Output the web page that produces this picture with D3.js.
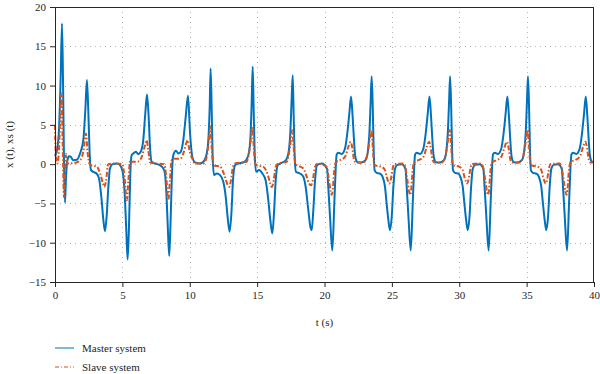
<!DOCTYPE html>
<html lang="en">
<head>
<meta charset="UTF-8">
<script src="https://cdn.jsdelivr.net/npm/d3@7/dist/d3.min.js"></script>
<title>Master / slave</title>
<style>
    body, html {
        margin: 0;
        padding: 0;
        background: #fff;
    }
    #chart {
        width: 600px;
        height: 374px;
    }
    text {
        font-family: "Liberation Serif", "DejaVu Serif", serif;
        fill: #262626;
    }
</style>
</head>
<body>
<div id="chart"></div>
<script>

// axis ticks
const xTicks = [0, 5, 10, 15, 20, 25, 30, 35, 40]
const yTicks = [-15, -10, -5, 0, 5, 10, 15, 20]

const seriesNames = ["Master system", "Slave system"]

// master system x(t), [t, value]
const masterData = [
    [0, 1.0], [0.15, 1.8], [0.3, 4.5], [0.42, 11], [0.52, 17.9], [0.6, 10], [0.67, 0], [0.74, -4.9], [0.82, -1.6], [0.92, 0.5],
    [1.04, 1.0], [1.16, 0.95], [1.36, 0.5], [1.61, 0.55], [1.86, 1.36], [2.10, 3.06], [2.25, 6.87], [2.37, 10.7], [2.47, 6.87], [2.57, 1.4],
    [2.67, -0.76], [2.84, -0.98], [3.09, -1.19], [3.29, -2.04], [3.46, -4.58], [3.59, -7.13], [3.71, -8.53], [3.83, -6.7], [3.96, -2.88], [4.08, -0.55],
    [4.28, 0.0], [4.58, 0.08], [4.82, -0.13], [5.02, -0.98], [5.17, -3.73], [5.29, -8.4], [5.39, -12.14], [5.49, -7.98], [5.59, -1.19], [5.69, 1.15],
    [5.81, 1.36], [6.01, 1.57], [6.18, 1.27], [6.36, 1.57], [6.55, 3.06], [6.70, 6.45], [6.83, 8.87], [6.95, 6.02], [7.05, 2.2], [7.17, 0.3],
    [7.42, 0.08], [7.79, -0.13], [8.04, -0.55], [8.16, -1.19], [8.29, -4.58], [8.39, -8.83], [8.48, -11.7], [8.58, -7.13], [8.68, -1.19], [8.78, 1.15],
    [8.98, 1.7], [9.15, 1.36], [9.33, 1.57], [9.52, 3.06], [9.70, 6.02], [9.87, 8.7], [10.02, 4.0], [10.19, 0.93], [10.39, 0.22], [10.76, 0.08],
    [11.01, 0.3], [11.26, 1.36], [11.38, 3.06], [11.48, 7.3], [11.55, 12.17], [11.63, 6.87], [11.70, 0.93], [11.80, -1.4], [12.00, -1.19], [12.25, -1.4],
    [12.49, -2.25], [12.67, -4.16], [12.81, -6.7], [12.96, -8.6], [13.09, -6.28], [13.21, -2.04], [13.36, -0.13], [13.61, 0.08], [13.98, 0.22], [14.22, 0.6],
    [14.40, 1.57], [14.52, 3.9], [14.60, 8.15], [14.67, 12.4], [14.74, 7.3], [14.82, 1.36], [14.92, -0.98], [15.14, -0.76], [15.39, -1.19], [15.63, -2.04],
    [15.83, -4.58], [15.98, -7.13], [16.13, -8.83], [16.25, -6.28], [16.38, -2.04], [16.53, -0.13], [16.82, 0.17], [17.14, 0.51], [17.32, 1.36], [17.46, 3.9],
    [17.56, 8.15], [17.64, 11.3], [17.71, 6.45], [17.79, 0.93], [17.88, -0.98], [18.18, -1.19], [18.43, -1.61], [18.60, -2.88], [18.80, -5.85], [18.95, -7.98],
    [19.05, -8.4], [19.17, -5.85], [19.30, -2.04], [19.45, -0.13], [19.79, 0.08],
    [20.19, -0.6], [20.28, -2.9], [20.41, -6.7], [20.58, -11.0], [20.73, -4.9], [20.83, -0.6], [20.90, 1.2], [21.03, 1.44], [21.27, 1.3], [21.52, 2.0],
    [21.69, 3.9], [21.84, 6.4], [21.97, 8.6], [22.09, 6.0], [22.19, 3.0], [22.29, 0.9], [22.44, 0.26], [22.63, 0.2], [22.88, 0.3], [23.08, 0.6],
    [23.23, 1.8], [23.33, 3.9], [23.43, 8.2], [23.50, 11.2], [23.58, 7.3], [23.65, 1.8], [23.72, -0.8], [23.87, -1.1], [24.12, -1.2], [24.31, -1.6],
    [24.49, -2.9], [24.61, -5.0], [24.74, -7.1], [24.86, -8.4], [24.99, -6.7], [25.11, -2.9], [25.23, -0.6], [25.40, -0.1], [25.73, 0.0],
    [26.01, -0.6], [26.10, -2.9], [26.23, -6.7], [26.40, -11.0], [26.55, -4.9], [26.65, -0.6], [26.72, 1.2], [26.85, 1.44], [27.09, 1.3], [27.34, 2.0],
    [27.51, 3.9], [27.66, 6.4], [27.79, 8.6], [27.91, 6.0], [28.01, 3.0], [28.11, 0.9], [28.26, 0.26], [28.45, 0.2], [28.70, 0.3], [28.90, 0.6],
    [29.05, 1.8], [29.15, 3.9], [29.25, 8.2], [29.32, 11.2], [29.40, 7.3], [29.47, 1.8], [29.54, -0.8], [29.69, -1.1], [29.94, -1.2], [30.08, -1.6],
    [30.26, -2.9], [30.38, -5.0], [30.51, -7.1], [30.63, -8.4], [30.76, -6.7], [30.88, -2.9], [31.00, -0.6], [31.17, -0.1], [31.50, 0.0],
    [31.79, -0.6], [31.88, -2.9], [32.01, -6.7], [32.18, -11.0], [32.33, -4.9], [32.43, -0.6], [32.50, 1.2], [32.63, 1.44], [32.87, 1.3], [33.12, 2.0],
    [33.29, 3.9], [33.44, 6.4], [33.57, 8.6], [33.69, 6.0], [33.79, 3.0], [33.89, 0.9], [34.04, 0.26], [34.23, 0.2], [34.48, 0.3], [34.68, 0.6],
    [34.83, 1.8], [34.93, 3.9], [35.03, 8.2], [35.10, 11.2], [35.18, 7.3], [35.25, 1.8], [35.32, -0.8], [35.47, -1.1], [35.72, -1.2], [35.91, -1.6],
    [36.09, -2.9], [36.21, -5.0], [36.34, -7.1], [36.46, -8.4], [36.59, -6.7], [36.71, -2.9], [36.83, -0.6], [37.00, -0.1], [37.33, 0.0],
    [37.61, -0.6], [37.70, -2.9], [37.83, -6.7], [38.00, -11.0], [38.15, -4.9], [38.25, -0.6], [38.32, 1.2], [38.45, 1.44], [38.69, 1.3], [38.94, 2.0],
    [39.11, 3.9], [39.26, 6.4], [39.39, 8.6], [39.51, 6.0], [39.61, 3.0], [39.71, 0.9], [39.86, 0.3], [40.0, 0.25]
]

// slave system xs(t)
const slaveData = [
    [0, 5.0], [0.07, 0.9], [0.17, 0.08], [0.3, 2.0], [0.4, 6.5], [0.47, 9.0], [0.57, 2.6], [0.67, -4.2], [0.75, -1.0], [0.82, 1.3],
    [0.92, 0.08], [1.2, 0.1], [1.6, 0.2], [1.9, 0.6], [2.1, 1.6], [2.30, 3.9], [2.42, 1.5], [2.55, 0.08], [2.7, -0.15], [3.1, -0.3],
    [3.35, -1.2], [3.55, -2.4], [3.66, -2.9], [3.78, -2.2], [3.95, 0.0], [4.5, 0.08], [5.0, 0.0], [5.15, -1.5], [5.33, -4.6], [5.45, -2.0],
    [5.58, 0.5], [5.7, 0.3], [6.2, 0.35], [6.45, 1.0], [6.65, 2.2], [6.80, 3.05], [6.92, 1.8], [7.07, 0.2], [7.5, 0.08], [8.1, 0.0],
    [8.25, -1.5], [8.41, -4.6], [8.53, -2.0], [8.66, 0.5], [8.9, 0.7], [9.3, 0.7], [9.55, 1.5], [9.73, 2.6], [9.85, 3.05], [9.97, 1.8],
    [10.15, 0.9], [10.39, 0.08], [11.0, 0.08], [11.26, 0.9], [11.41, 3.05], [11.53, 4.75], [11.63, 2.2], [11.73, 0.08], [11.87, -0.2], [12.25, -0.3],
    [12.57, -1.4], [12.77, -2.46], [12.94, -2.88], [13.06, -2.04], [13.21, -0.3], [13.36, 0.08], [14.22, 0.3], [14.47, 2.2], [14.65, 4.8], [14.75, 2.2],
    [14.85, 0.08], [14.97, -0.13], [15.47, -0.34], [15.8, -1.4], [15.97, -2.46], [16.09, -2.9], [16.23, -2.04], [16.38, -0.34], [16.58, 0.08], [17.2, 0.3],
    [17.44, 2.2], [17.61, 4.3], [17.71, 2.2], [17.83, 0.08], [18.05, -0.2], [18.43, -0.55], [18.68, -1.6], [18.85, -2.46], [19.0, -2.7], [19.13, -2.04],
    [19.3, -0.34], [19.5, 0.08],
    [20.16, -0.34], [20.33, -2.04], [20.46, -3.5], [20.53, -3.9], [20.61, -3.3], [20.70, -1.2], [20.80, 0.08], [20.90, 0.3], [21.15, 0.5], [21.52, 0.93],
    [21.77, 2.2], [21.94, 2.84], [22.07, 1.99], [22.19, 0.59], [22.34, 0.21], [22.88, 0.21], [23.13, 0.93], [23.28, 2.2], [23.38, 3.5], [23.48, 4.33],
    [23.55, 3.06], [23.63, 0.93], [23.70, -0.13], [24.24, -0.34], [24.49, -0.76], [24.61, -1.6], [24.74, -2.25], [24.81, -2.46], [24.91, -2.04], [25.06, -0.55],
    [25.16, 0.0], [25.85, 0.08],
    [25.98, -0.34], [26.15, -2.04], [26.28, -3.5], [26.35, -3.9], [26.43, -3.3], [26.52, -1.2], [26.62, 0.08], [26.72, 0.3], [26.97, 0.5], [27.34, 0.93],
    [27.59, 2.2], [27.76, 2.84], [27.89, 1.99], [28.01, 0.59], [28.16, 0.21], [28.70, 0.21], [28.95, 0.93], [29.10, 2.2], [29.20, 3.5], [29.30, 4.33],
    [29.37, 3.06], [29.45, 0.93], [29.52, -0.13], [30.01, -0.34], [30.26, -0.76], [30.38, -1.6], [30.51, -2.25], [30.58, -2.46], [30.68, -2.04], [30.83, -0.55],
    [30.93, 0.0], [31.62, 0.08],
    [31.76, -0.34], [31.93, -2.04], [32.06, -3.5], [32.13, -3.9], [32.21, -3.3], [32.30, -1.2], [32.40, 0.08], [32.50, 0.3], [32.75, 0.5], [33.12, 0.93],
    [33.37, 2.2], [33.54, 2.84], [33.67, 1.99], [33.79, 0.59], [33.94, 0.21], [34.48, 0.21], [34.73, 0.93], [34.88, 2.2], [34.98, 3.5], [35.08, 4.33],
    [35.15, 3.06], [35.23, 0.93], [35.30, -0.13], [35.84, -0.34], [36.09, -0.76], [36.21, -1.6], [36.34, -2.25], [36.41, -2.46], [36.51, -2.04], [36.66, -0.55],
    [36.76, 0.0], [37.45, 0.08],
    [37.58, -0.34], [37.75, -2.04], [37.88, -3.5], [37.95, -3.9], [38.03, -3.3], [38.12, -1.2], [38.22, 0.08], [38.32, 0.3], [38.57, 0.5], [38.94, 0.93],
    [39.19, 2.2], [39.36, 2.84], [39.49, 1.99], [39.61, 0.59], [39.76, 0.21], [40.0, 0.21]
]

const width = 600
const height = 374
const margin = { left: 55, right: 6, top: 7, bottom: 92 }
const innerW = width - margin.left - margin.right
const innerH = height - margin.top - margin.bottom

const blue = "#0072bd"
const orange = "#d95319"

const svg = d3.select("#chart").append("svg")
    .attr("width", width).attr("height", height)

const x = d3.scaleLinear().domain([0, 40]).range([margin.left, margin.left + innerW])
const y = d3.scaleLinear().domain([-15, 20]).range([margin.top + innerH, margin.top])

// grid
const grid = svg.append("g").attr("stroke", "#b4b4b4").attr("stroke-width", 1).attr("stroke-dasharray", "1,4")
grid.selectAll(".gx").data(xTicks.slice(1, -1)).enter().append("line")
    .attr("x1", d => Math.round(x(d)) + 0.5).attr("x2", d => Math.round(x(d)) + 0.5)
    .attr("y1", margin.top).attr("y2", margin.top + innerH)
grid.selectAll(".gy").data(yTicks.slice(1, -1)).enter().append("line")
    .attr("y1", d => Math.round(y(d)) + 0.5).attr("y2", d => Math.round(y(d)) + 0.5)
    .attr("x1", margin.left).attr("x2", margin.left + innerW)

// series
const line = d3.line().x(d => x(d[0])).y(d => y(d[1])).curve(d3.curveMonotoneX)

svg.append("path").datum(masterData)
    .attr("fill", "none").attr("stroke", blue).attr("stroke-width", 2)
    .attr("stroke-linejoin", "round").attr("d", line)

svg.append("path").datum(slaveData)
    .attr("fill", "none").attr("stroke", orange).attr("stroke-width", 2)
    .attr("stroke-dasharray", "5,2,1.5,2").attr("d", line)

// axes
const xAxis = svg.append("g").attr("transform", `translate(0,${margin.top + innerH})`)
    .call(d3.axisBottom(x).tickValues(xTicks).tickSize(5).tickSizeOuter(0).tickPadding(4))
const yAxis = svg.append("g").attr("transform", `translate(${margin.left},0)`)
    .call(d3.axisLeft(y).tickValues(yTicks).tickSize(5).tickSizeOuter(0).tickPadding(4)
        .tickFormat(d => d < 0 ? "\u2212" + Math.abs(d) : d))
;[xAxis, yAxis].forEach(a => {
    a.select(".domain").remove()
    a.selectAll(".tick line").attr("stroke", "#262626")
    a.selectAll("text").attr("font-size", 11).attr("fill", "#262626")
        .attr("font-family", "Liberation Serif, DejaVu Serif, serif")
})

// box
svg.append("rect")
    .attr("x", margin.left + 0.5).attr("y", margin.top + 0.5)
    .attr("width", innerW - 1).attr("height", innerH)
    .attr("fill", "none").attr("stroke", "#262626").attr("stroke-width", 1)

// axis titles
svg.append("text").attr("x", margin.left + innerW / 2).attr("y", 326)
    .attr("text-anchor", "middle").attr("font-size", 11).text("t (s)")
svg.append("text")
    .attr("transform", `translate(13,${margin.top + innerH / 2}) rotate(-90)`)
    .attr("text-anchor", "middle").attr("font-size", 11).text("x (t), xs (t)")

// legend
const legend = svg.append("g")
const legendY = [348, 367]
legend.selectAll("line").data(seriesNames).enter().append("line")
    .attr("x1", 55).attr("x2", 74)
    .attr("y1", (d, i) => legendY[i]).attr("y2", (d, i) => legendY[i])
    .attr("stroke", (d, i) => i === 0 ? blue : orange).attr("stroke-width", 1)
    .attr("stroke-dasharray", (d, i) => i === 0 ? null : "4,2,1,2")
legend.selectAll("text").data(seriesNames).enter().append("text")
    .attr("x", 82).attr("y", (d, i) => legendY[i] + 4)
    .attr("font-size", 11).text(d => d)

</script>
</body>
</html>
